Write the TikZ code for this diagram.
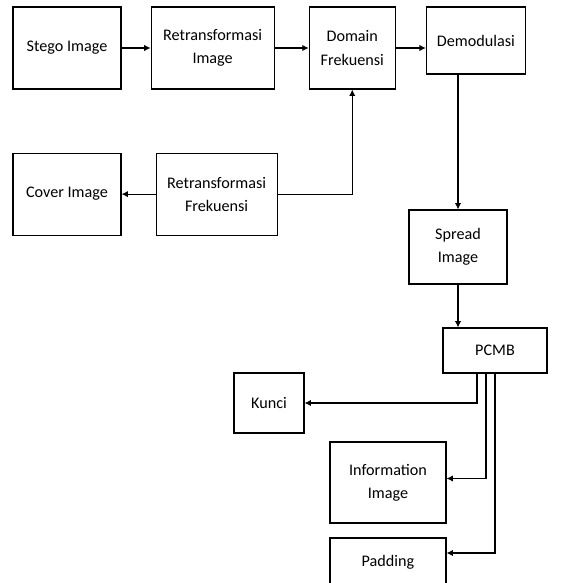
\documentclass[tikz,border=0pt]{standalone}
\usepackage{fontspec}
\setmainfont{Carlito}
\usepackage{tikz}
\usetikzlibrary{arrows.meta,positioning}
\tikzset{
  blk/.style={draw=black,line width=.8pt,align=center,inner sep=2pt,font=\fontsize{11.5}{16.5}\selectfont},
  flow/.style={-{Latex[length=4.5pt,width=4.5pt]},draw=black,line width=.75pt},
}

\begin{document}
\begin{tikzpicture}
        \useasboundingbox (0,0) rectangle (14.125,-14.575);
        \node[blk,minimum width=2.7cm,minimum height=2.05cm] (stego) at (1.675,-1.2) {Stego Image};
        \node[blk,minimum width=3.075cm,minimum height=2.05cm,right=.725cm of stego] (retimg) {Retransformasi\\Image};
        \node[blk,minimum width=2.15cm,minimum height=2.05cm,right=.85cm of retimg] (domain) {Domain\\Frekuensi};
        \node[blk,minimum width=2.475cm,minimum height=1.675cm,right=.75cm of domain.north east,anchor=north west] (demod) {Demodulasi};
        \node[blk,minimum width=2.7cm,minimum height=2.05cm,below=1.575cm of stego] (cover) {Cover Image};
        \node[blk,minimum width=3.025cm,minimum height=2.05cm,right=.85cm of cover] (retfreq) {Retransformasi\\Frekuensi};
        \node[blk,minimum width=2.45cm,minimum height=1.85cm] (spread) at (11.45,-6.175) {Spread\\Image};
        \node[blk,minimum width=2.6cm,minimum height=1.125cm] (pcmb) at (12.375,-8.7625) {PCMB};
        \node[blk,minimum width=1.75cm,minimum height=1.5cm] (kunci) at (6.725,-10.075) {Kunci};
        \node[blk,minimum width=2.9cm,minimum height=2.025cm] (info) at (9.7,-12.0625) {Information\\Image};
        \node[blk,minimum width=2.9cm,minimum height=1.2cm] (pad) at (9.7,-14.05) {Padding};
        \draw[flow] (stego) -- (retimg);
        \draw[flow] (retimg) -- (domain);
        \draw[flow] (domain.east) -- (domain.east -| demod.west);
        \draw[flow] (demod.south -| spread.north) -- (spread.north);
        \draw[flow] (retfreq) -- (cover);
        \draw[flow] (retfreq.east) -| (domain.south);
        \draw[flow] (spread.south) -- (spread.south |- pcmb.north);
        \draw[flow] ([xshift=-.45cm]pcmb.south) |- (kunci.east);
        \draw[flow] ([xshift=-.225cm]pcmb.south) |- ([yshift=.1cm]info.east);
        \draw[flow] (pcmb.south) |- ([yshift=.225cm]pad.east);
      \end{tikzpicture}
\end{document}
